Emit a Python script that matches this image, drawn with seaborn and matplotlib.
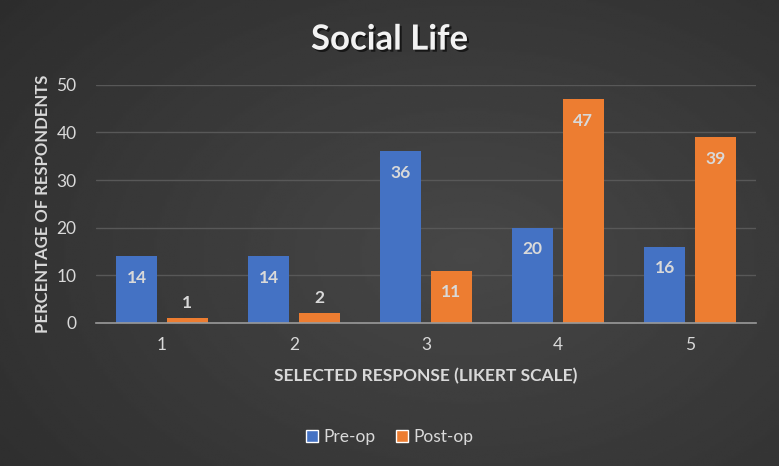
import matplotlib
matplotlib.use("Agg")
import matplotlib.pyplot as plt
import matplotlib.patheffects as pe
from matplotlib.patches import Patch
import seaborn as sns
import pandas as pd
import numpy as np

# chart data
responses = ["1", "2", "3", "4", "5"]
pre_op = [14, 14, 36, 20, 16]
post_op = [1, 2, 11, 47, 39]
series = ["Pre-op", "Post-op"]
colors = ["#4472C4", "#ED7D31"]

df = pd.DataFrame({
    "response": responses * 2,
    "value": pre_op + post_op,
    "group": [series[0]] * len(responses) + [series[1]] * len(responses),
})

sns.set_style("dark")
plt.rcParams["font.family"] = ["Lato", "DejaVu Sans"]
txt = "#d9d9d9"

fig = plt.figure(figsize=(7.79, 4.66), dpi=100)

# dark gradient background
bg = fig.add_axes([0, 0, 1, 1], zorder=-10)
yy, xx = np.mgrid[0:1:200j, 0:1:300j]
r = np.sqrt(((xx - 0.6) / 0.9) ** 2 + ((yy - 0.45) / 1.0) ** 2)
bg.imshow(0.28 - 0.12 * r, cmap="gray", vmin=0, vmax=1, aspect="auto",
          extent=[0, 1, 0, 1], origin="lower")
bg.axis("off")

ax = fig.add_axes([0.1232, 0.307, 0.8472, 0.511])
sns.barplot(data=df, x="response", y="value", hue="group", palette=colors,
            width=0.765, gap=0.19, saturation=1, legend=False, ax=ax,
            edgecolor="none", linewidth=0)
ax.set_facecolor("none")

ax.set_xlim(-0.5, 4.5)
ax.set_ylim(0, 50)
ax.set_yticks(range(0, 51, 10))
ax.grid(axis="y", color="#585858", linewidth=1)
ax.set_axisbelow(True)
for s in ["top", "right", "left"]:
    ax.spines[s].set_visible(False)
ax.spines["bottom"].set_color("#9a9a9a")
ax.spines["bottom"].set_linewidth(1.2)
ax.tick_params(axis="both", length=0, colors=txt, labelsize=12.5)
ax.tick_params(axis="y", pad=14)
ax.tick_params(axis="x", pad=10)

ax.set_xlabel("SELECTED RESPONSE (LIKERT SCALE)", color=txt, fontsize=12.5,
              fontweight="bold", labelpad=11)
ax.set_ylabel("PERCENTAGE OF RESPONDENTS", color=txt, fontsize=12,
              fontweight="bold", labelpad=4)

# value labels
for cont in ax.containers:
    for bar, v in zip(cont, cont.datavalues):
        cx = bar.get_x() + bar.get_width() / 2
        off = 11 if v < 5 else -15.5
        ax.annotate(f"{v:g}", (cx, v), xytext=(0, off), textcoords="offset points",
                    ha="center", va="center", color=txt, fontsize=12.5,
                    fontweight="bold")

fig.text(0.5, 0.915, "Social Life", ha="center", va="center", color="#f2f2f2",
         fontsize=25, fontweight="bold",
         path_effects=[pe.withSimplePatchShadow(offset=(1.5, -1.5),
                                                shadow_rgbFace="black", alpha=0.6)])

handles = [Patch(facecolor=c, label=s) for c, s in zip(colors, series)]
fig.legend(handles=handles, loc="center", bbox_to_anchor=(0.5, 0.062), ncol=2,
           frameon=False, fontsize=12.5, labelcolor=txt, handlelength=0.7,
           handleheight=0.7, handletextpad=0.3, columnspacing=1.2)

fig.savefig("out.png", dpi=100)
